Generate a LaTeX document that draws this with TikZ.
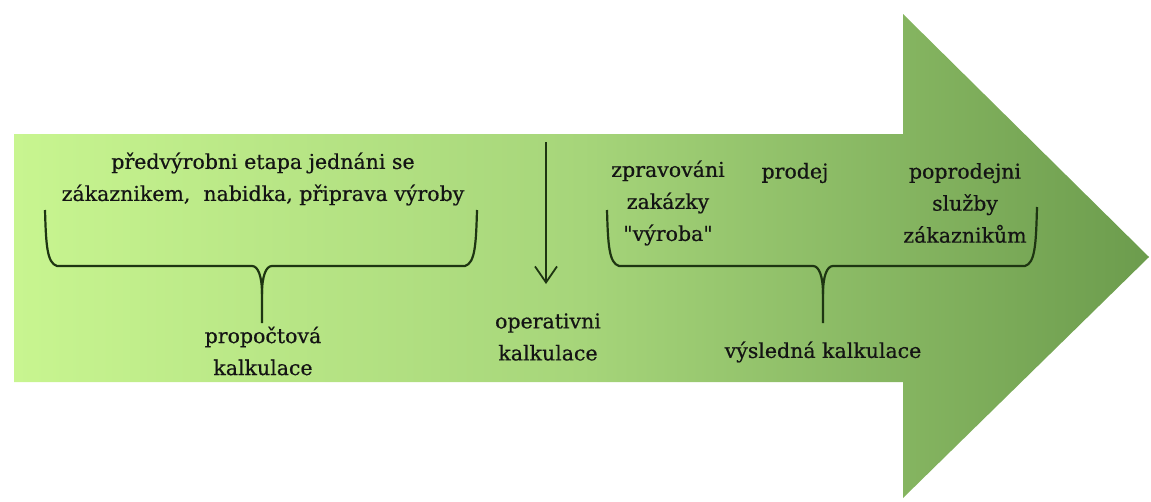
\documentclass[tikz,border=0pt]{standalone}
\usepackage{fontspec}
\setmainfont{DejaVu Serif}[FakeBold=0.6]
\usetikzlibrary{arrows.meta}
\definecolor{arrowlight}{HTML}{C8F590}
\definecolor{arrowmid}{HTML}{A6D57A}
\definecolor{arrowdark}{HTML}{6C9C4D}
\definecolor{inkgreen}{HTML}{1E3512}
\definecolor{textink}{HTML}{141414}
\newcommand{\qt}{\textquotedbl}
\begin{document}
\begin{tikzpicture}[x=1pt,y=-1pt,
  caption/.style={text=textink,font=\rmfamily\fontsize{20.5}{32}\selectfont,align=center,inner sep=0pt},
  bracket/.style={draw=inkgreen,line width=2.2pt,line join=round},
  pointer/.style={draw=inkgreen,line width=1.8pt,-{Straight Barb[length=16pt,width=22pt,line width=1.8pt]}}]
\useasboundingbox (0,0) rectangle (1151,501);
% big process arrow
\shade[left color=arrowlight,right color=arrowdark,middle color=arrowmid]
  (14,134) -- (903,134) -- (903,14) -- (1149,257) -- (903,498) -- (903,382) -- (14,382) -- cycle;
% left group
\node[caption] (pre) at (263,179) {předvýrobni etapa jednáni se\\zákaznikem,\ \ nabidka, připrava výroby};
\coordinate (lbA) at (45,210);
\coordinate (lbB) at (477,210);
\coordinate (lbT) at (262,323);
\draw[bracket] (lbA) .. controls (46,245) and (47,263) .. (57,266)
  -- (252,266) .. controls (258,266) and (262,276) .. (262,294) -- (lbT);
\draw[bracket] (lbB) .. controls (476,245) and (475,263) .. (465,266)
  -- (272,266) .. controls (266,266) and (262,276) .. (262,294);
\node[caption] (prop) at (263,351) {propočtová\\kalkulace};
% operative calculation
\coordinate (opA) at (546,142);
\coordinate (opB) at (546,284);
\draw[pointer] (opA) -- (opB);
\node[caption] (oper) at (548,337) {operativni\\kalkulace};
% right group
\node[caption] (zpr) at (668,203) {zpravováni\\zakázky\\\qt výroba\qt};
\node[caption] (prod) at (795,173) {prodej};
\node[caption] (post) at (965,203) {poprodejni\\služby\\zákaznikům};
\coordinate (rbA) at (607,210);
\coordinate (rbB) at (1037,207);
\coordinate (rbT) at (823,323);
\draw[bracket] (rbA) .. controls (608,245) and (609,263) .. (619,266)
  -- (813,266) .. controls (819,266) and (823,276) .. (823,294) -- (rbT);
\draw[bracket] (rbB) .. controls (1036,245) and (1035,263) .. (1025,266)
  -- (833,266) .. controls (827,266) and (823,276) .. (823,294);
\node[caption] (res) at (823,352) {výsledná kalkulace};
\end{tikzpicture}
\end{document}
